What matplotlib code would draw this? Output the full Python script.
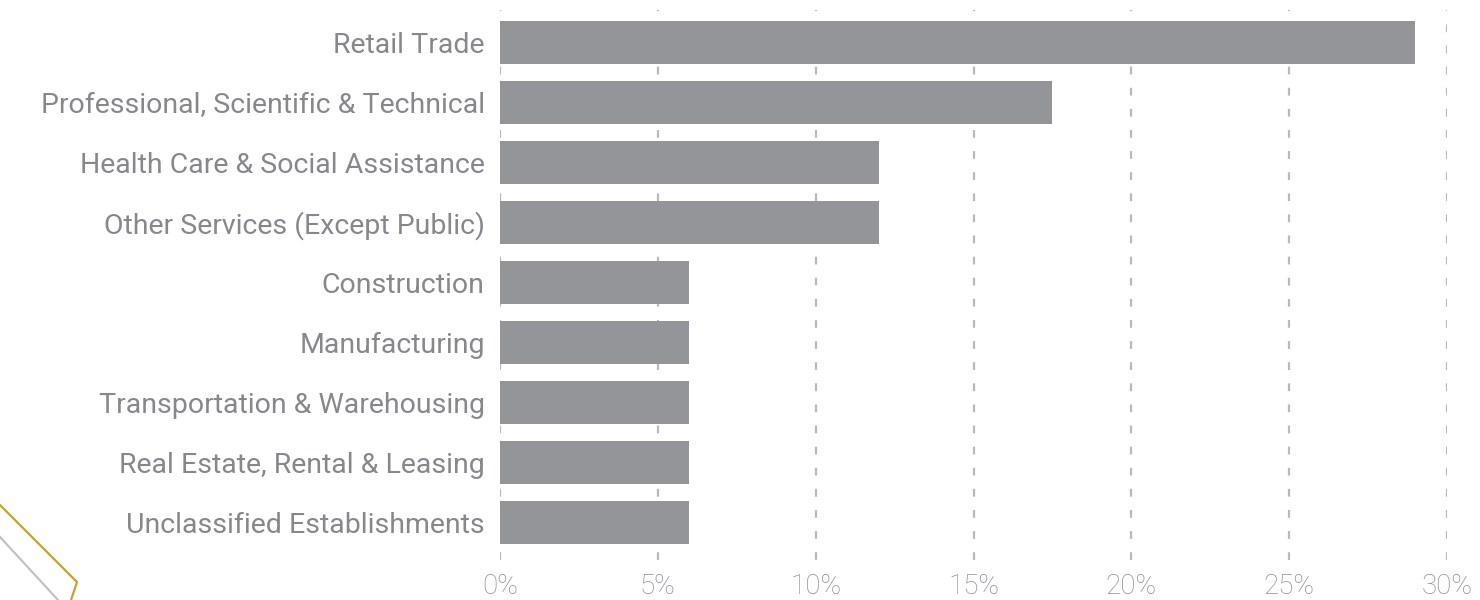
import matplotlib.pyplot as plt
from matplotlib.lines import Line2D

plt.rcParams['font.family'] = ['Roboto', 'DejaVu Sans']

industries = [
    "Retail Trade",
    "Professional, Scientific & Technical",
    "Health Care & Social Assistance",
    "Other Services (Except Public)",
    "Construction",
    "Manufacturing",
    "Transportation & Warehousing",
    "Real Estate, Rental & Leasing",
    "Unclassified Establishments",
]
shares = [29, 17.5, 12, 12, 6, 6, 6, 6, 6]
xticks = [0, 5, 10, 15, 20, 25, 30]
xlabels = ["0%", "5%", "10%", "15%", "20%", "25%", "30%"]

bar_color = "#939598"
text_color = "#86888b"
grid_color = "#b8babc"

fig = plt.figure(figsize=(14.8, 6), dpi=100)
ax = fig.add_axes([500 / 1480, 40 / 600, 947 / 1480, 550 / 600])

ypos = list(range(len(industries)))
ax.barh(ypos, shares, height=0.72, color=bar_color, zorder=2)

ax.set_xlim(0, 30)
ax.set_ylim(8.625, -0.542)
ax.set_yticks(ypos)
ax.set_yticklabels(industries, fontsize=20.5, color=text_color)
ax.set_xticks(xticks)
ax.set_xticklabels(xlabels, fontsize=20, color="#8e9093", fontweight="light")
ax.tick_params(axis="both", length=0)
ax.tick_params(axis="y", pad=11)
ax.tick_params(axis="x", pad=9)

ax.grid(axis="x", color=grid_color, linewidth=1.6, linestyle=(0, (3.5, 6)), zorder=0)
ax.grid(axis="y", visible=False)
for s in ax.spines.values():
    s.set_visible(False)

# decorative corner lines
fig.add_artist(Line2D([0, 77 / 1480, 71 / 1480], [1 - 505 / 600, 1 - 582 / 600, 0],
                      transform=fig.transFigure, color="#c9a035", linewidth=1.6))
fig.add_artist(Line2D([0, 58 / 1480], [1 - 537 / 600, 0],
                      transform=fig.transFigure, color="#c3c3c3", linewidth=1.6))

fig.savefig("out.png", dpi=100)
